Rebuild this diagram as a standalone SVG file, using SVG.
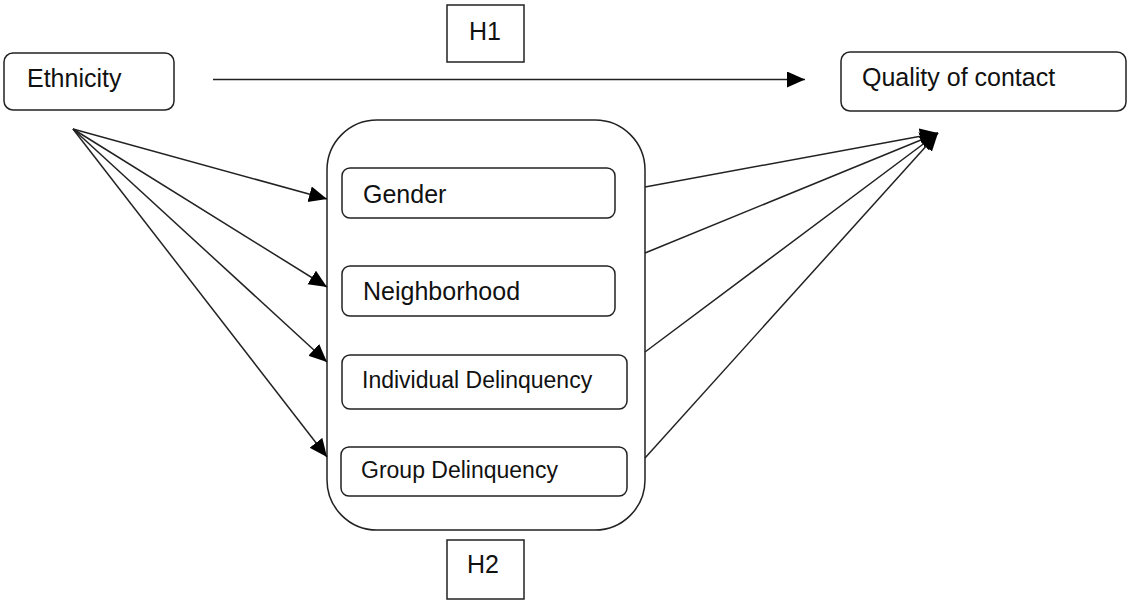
<svg xmlns="http://www.w3.org/2000/svg" width="1127" height="600" viewBox="0 0 1127 600">
<defs>
<style>
.box{fill:#fff;stroke:#222;stroke-width:1.5}
.lbl{font-family:"Liberation Sans",Arial,sans-serif;fill:#111}
.big{font-size:25px}
.small{font-size:23px}
.conn{stroke:#222;stroke-width:1.5;fill:none;marker-end:url(#ah)}
</style>
<marker id="ah" markerUnits="userSpaceOnUse" markerWidth="20" markerHeight="18" refX="18" refY="8" orient="auto">
<path d="M0,0 L18,8 L0,16 Z" fill="#000"/>
</marker>
</defs>
<g id="h1"><rect class="box" x="447" y="5" width="77" height="57"/><text class="lbl big" x="485" y="40" text-anchor="middle">H1</text></g>
<g id="ethnicity"><rect class="box" x="4" y="53" width="170" height="57" rx="9"/><text class="lbl big" x="27" y="87">Ethnicity</text></g>
<g id="quality"><rect class="box" x="841" y="52" width="285" height="59" rx="9"/><text class="lbl big" x="862" y="86">Quality of contact</text></g>
<g id="container"><rect class="box" x="327" y="120" width="318" height="410" rx="50"/></g>
<g id="gender"><rect class="box" x="342" y="168" width="273" height="50" rx="8"/><text class="lbl big" x="363" y="203">Gender</text></g>
<g id="neighborhood"><rect class="box" x="342" y="266" width="273" height="50" rx="8"/><text class="lbl big" x="363" y="300">Neighborhood</text></g>
<g id="individual"><rect class="box" x="342" y="355" width="285" height="54" rx="8"/><text class="lbl small" x="362" y="388">Individual Delinquency</text></g>
<g id="group"><rect class="box" x="341" y="447" width="286" height="49" rx="8"/><text class="lbl small" x="361" y="478">Group Delinquency</text></g>
<g id="h2"><rect class="box" x="447" y="540" width="77" height="59"/><text class="lbl big" x="483" y="573" text-anchor="middle">H2</text></g>
<g id="connectors">
<line class="conn" x1="213" y1="79.5" x2="805" y2="79.5"/>
<line class="conn" x1="73" y1="129" x2="327" y2="199"/>
<line class="conn" x1="73" y1="129" x2="327" y2="287"/>
<line class="conn" x1="73" y1="129" x2="327" y2="362"/>
<line class="conn" x1="73" y1="129" x2="327" y2="457"/>
<line class="conn" x1="645" y1="187" x2="938" y2="133"/>
<line class="conn" x1="645" y1="253" x2="938" y2="133"/>
<line class="conn" x1="645" y1="352" x2="938" y2="133"/>
<line class="conn" x1="645" y1="458" x2="938" y2="133"/>
</g>
</svg>
